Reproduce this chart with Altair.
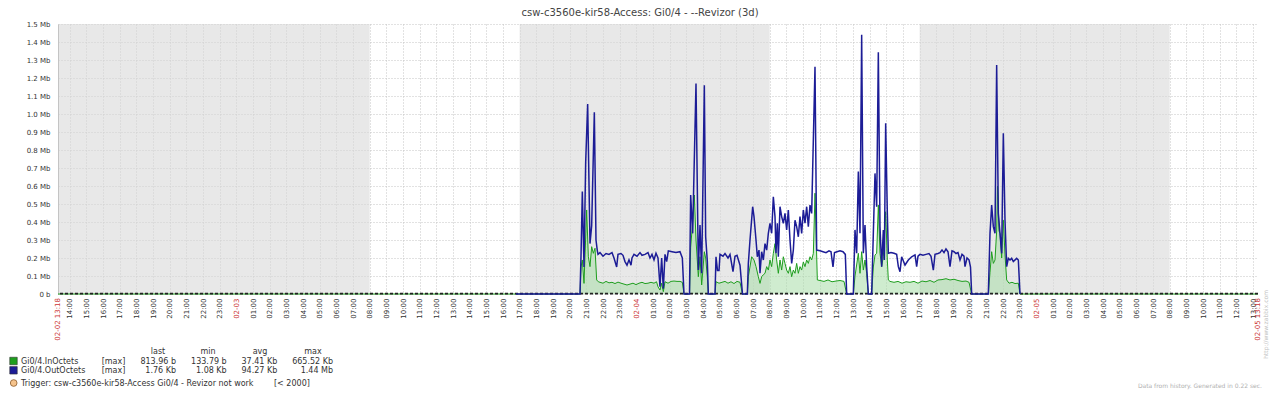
import altair as alt
import pandas as pd

FONT = "DejaVu Sans"
START = "2014-02-02 13:18"
END = "2014-02-05 13:18"

TITLE = "csw-c3560e-kir58-Access: Gi0/4 - --Revizor (3d)"

# off-hours shading (start, end)
shade_start = ["2014-02-02 13:18", "2014-02-03 17:00", "2014-02-04 17:00"]
shade_end = ["2014-02-03 08:00", "2014-02-04 08:00", "2014-02-05 08:00"]

# y ticks (Mb)
y_ticks = [0, 0.1, 0.2, 0.3, 0.4, 0.5, 0.6, 0.7, 0.8, 0.9, 1.0, 1.1, 1.2, 1.3, 1.4, 1.5]

# Gi0/4.OutOctets : (hours since start, Mb)
out_octets = [
    (27.48, 0), (31.32, 0), (31.38, 0.21), (31.46, 0.57), (31.56, 0.15), (31.66, 0.73),
    (31.78, 1.055), (31.92, 0.28), (32.02, 0.38), (32.18, 1.01), (32.28, 0.30), (32.36, 0.24),
    (32.40, 0.22), (32.52, 0.23), (32.70, 0.21), (32.88, 0.225), (33.06, 0.22), (33.24, 0.23),
    (33.36, 0.20), (33.52, 0.15), (33.60, 0.22), (33.78, 0.225), (33.90, 0.215), (34.02, 0.18),
    (34.14, 0.16), (34.26, 0.19), (34.38, 0.16), (34.44, 0.20), (34.56, 0.22), (34.74, 0.21),
    (34.92, 0.23), (35.04, 0.215), (35.22, 0.22), (35.40, 0.23), (35.52, 0.20), (35.64, 0.22),
    (35.76, 0.19), (35.88, 0.227), (36.00, 0.20), (36.12, 0.04), (36.22, 0.20), (36.32, 0.03),
    (36.42, 0.22), (36.52, 0.18), (36.62, 0.24), (36.84, 0.235), (37.08, 0.23), (37.32, 0.235),
    (37.46, 0.20), (37.56, 0), (37.89, 0), (37.96, 0.55), (38.08, 0.337), (38.28, 1.17),
    (38.42, 0.133), (38.52, 0.383), (38.62, 0.115), (38.78, 1.16), (38.86, 0.318), (38.96, 0.18),
    (39.02, 0), (39.42, 0), (39.48, 0.207), (39.57, 0.13), (39.66, 0.13), (39.72, 0.22),
    (39.90, 0.21), (40.02, 0.225), (40.20, 0.20), (40.32, 0.22), (40.50, 0.124), (40.62, 0.21),
    (40.74, 0.215), (40.92, 0.16), (41.07, 0), (41.36, 0), (41.42, 0.17), (41.52, 0.30),
    (41.68, 0.485), (41.76, 0.43), (41.88, 0.30), (41.96, 0.207), (42.06, 0.244), (42.12, 0.115),
    (42.22, 0.235), (42.32, 0.189), (42.42, 0.28), (42.52, 0.244), (42.62, 0.337), (42.72, 0.393),
    (42.82, 0.337), (42.92, 0.54), (43.02, 0.43), (43.08, 0.226), (43.16, 0.393), (43.22, 0.207),
    (43.32, 0.485), (43.42, 0.43), (43.52, 0.393), (43.62, 0.448), (43.72, 0.356), (43.82, 0.467),
    (43.92, 0.30), (44.02, 0.17), (44.12, 0.244), (44.22, 0.41), (44.32, 0.374), (44.42, 0.318),
    (44.52, 0.43), (44.62, 0.337), (44.72, 0.467), (44.82, 0.393), (44.92, 0.485), (45.02, 0.374),
    (45.12, 0.494), (45.22, 0.448), (45.28, 0.69), (45.42, 1.263), (45.52, 0.244), (45.72, 0.24),
    (45.90, 0.235), (46.08, 0.23), (46.26, 0.24), (46.38, 0.235), (46.50, 0.15), (46.59, 0.23),
    (46.74, 0.235), (46.92, 0.24), (47.10, 0.235), (47.24, 0.22), (47.32, 0), (47.72, 0),
    (47.82, 0.356), (47.92, 0.226), (48.02, 0.68), (48.12, 0.337), (48.22, 1.44), (48.32, 0.226),
    (48.42, 0.383), (48.52, 0.152), (48.62, 0), (48.82, 0), (48.92, 0.337), (49.02, 0.67),
    (49.12, 0.485), (49.22, 1.343), (49.32, 0.374), (49.42, 0.152), (49.52, 0.356), (49.58, 0.189),
    (49.66, 0.948), (49.76, 0.448), (49.82, 0.226), (49.98, 0.23), (50.16, 0.226), (50.32, 0.22),
    (50.42, 0.152), (50.52, 0.124), (50.62, 0.207), (50.82, 0.161), (51.02, 0.189), (51.22, 0.207),
    (51.42, 0.217), (51.52, 0.152), (51.60, 0.21), (51.72, 0.22), (51.90, 0.215), (52.08, 0.22),
    (52.26, 0.225), (52.38, 0.21), (52.52, 0.133), (52.62, 0.22), (52.80, 0.225), (52.92, 0.23),
    (53.04, 0.245), (53.16, 0.23), (53.28, 0.25), (53.40, 0.235), (53.52, 0.152), (53.64, 0.24),
    (53.76, 0.235), (53.88, 0.225), (54.00, 0.23), (54.12, 0.189), (54.24, 0.22), (54.36, 0.21),
    (54.42, 0.152), (54.54, 0.20), (54.66, 0.19), (54.75, 0.15), (54.82, 0), (55.82, 0),
    (55.92, 0.337), (56.02, 0.494), (56.12, 0.374), (56.22, 0.337), (56.32, 1.272), (56.42, 0.448),
    (56.52, 0.337), (56.62, 0.226), (56.72, 0.893), (56.82, 0.41), (56.92, 0.152), (57.02, 0.198),
    (57.12, 0.189), (57.22, 0.198), (57.32, 0.18), (57.52, 0.198), (57.62, 0.189), (57.72, 0),
]

# Gi0/4.InOctets : (hours since start, Mb)
in_octets = [
    (0, 0), (31.32, 0), (31.38, 0.15), (31.46, 0.189), (31.56, 0.059), (31.72, 0.467),
    (31.82, 0.207), (31.92, 0.152), (32.02, 0.263), (32.12, 0.226), (32.22, 0.254), (32.32, 0.078),
    (32.42, 0.068), (32.52, 0.065), (32.70, 0.06), (32.88, 0.07), (33.06, 0.062), (33.24, 0.065),
    (33.42, 0.058), (33.60, 0.066), (33.78, 0.06), (33.96, 0.055), (34.14, 0.05), (34.32, 0.055),
    (34.50, 0.06), (34.68, 0.052), (34.86, 0.06), (35.04, 0.065), (35.22, 0.058), (35.40, 0.06),
    (35.58, 0.065), (35.76, 0.06), (35.91, 0.068), (36.00, 0.04), (36.12, 0.022), (36.22, 0.06),
    (36.32, 0.013), (36.42, 0.068), (36.60, 0.06), (36.78, 0.07), (36.96, 0.072), (37.14, 0.07),
    (37.32, 0.07), (37.46, 0.065), (37.56, 0), (37.89, 0), (37.96, 0.26), (38.08, 0.40),
    (38.18, 0.55), (38.28, 0.30), (38.42, 0.096), (38.52, 0.207), (38.62, 0.05), (38.78, 0.235),
    (38.86, 0.20), (38.96, 0.096), (39.02, 0), (39.42, 0), (39.48, 0.068), (39.66, 0.06),
    (39.84, 0.065), (40.02, 0.07), (40.20, 0.06), (40.38, 0.068), (40.56, 0.058), (40.74, 0.07),
    (40.92, 0.065), (41.07, 0), (41.36, 0), (41.42, 0.096), (41.62, 0.207), (41.76, 0.189),
    (41.88, 0.152), (42.02, 0.096), (42.12, 0.059), (42.22, 0.096), (42.32, 0.107), (42.42, 0.115),
    (42.52, 0.152), (42.62, 0.133), (42.72, 0.189), (42.82, 0.152), (42.92, 0.226), (43.02, 0.28),
    (43.12, 0.189), (43.22, 0.115), (43.32, 0.189), (43.42, 0.133), (43.52, 0.207), (43.62, 0.17),
    (43.72, 0.133), (43.82, 0.115), (43.92, 0.152), (44.02, 0.096), (44.12, 0.133), (44.22, 0.115),
    (44.32, 0.17), (44.42, 0.115), (44.52, 0.152), (44.62, 0.133), (44.72, 0.178), (44.82, 0.152),
    (44.92, 0.189), (45.02, 0.17), (45.12, 0.207), (45.22, 0.189), (45.32, 0.226), (45.42, 0.56),
    (45.56, 0.078), (45.72, 0.075), (45.96, 0.07), (46.20, 0.078), (46.44, 0.068), (46.68, 0.072),
    (46.92, 0.075), (47.16, 0.07), (47.32, 0), (47.72, 0), (47.82, 0.10), (48.02, 0.226),
    (48.12, 0.115), (48.22, 0.235), (48.32, 0.133), (48.42, 0.189), (48.52, 0.115), (48.62, 0),
    (48.82, 0), (48.92, 0.15), (49.02, 0.217), (49.12, 0.226), (49.22, 0.494), (49.32, 0.226),
    (49.42, 0.152), (49.52, 0.207), (49.66, 0.457), (49.76, 0.189), (49.82, 0.078), (49.92, 0.07),
    (50.16, 0.065), (50.40, 0.07), (50.64, 0.06), (50.88, 0.068), (51.12, 0.065), (51.36, 0.07),
    (51.60, 0.06), (51.84, 0.072), (52.08, 0.068), (52.32, 0.075), (52.56, 0.065), (52.80, 0.078),
    (53.04, 0.08), (53.28, 0.085), (53.52, 0.078), (53.76, 0.082), (54.00, 0.075), (54.24, 0.07),
    (54.48, 0.072), (54.66, 0.065), (54.82, 0), (55.82, 0), (55.92, 0.12), (56.02, 0.235),
    (56.12, 0.17), (56.22, 0.189), (56.32, 0.35), (56.37, 0.60), (56.46, 0.35), (56.52, 0.337),
    (56.62, 0.20), (56.72, 0.41), (56.82, 0.217), (56.92, 0.078), (57.06, 0.06), (57.24, 0.065),
    (57.42, 0.058), (57.62, 0.06), (57.72, 0), (72.0, 0),
]

trigger_level = [2000 / 1048576]  # "< 2000" in Mb

legend_names = ["Gi0/4.InOctets", "Gi0/4.OutOctets"]
legend_colors = ["#1e9e1e", "#1c1c96"]
stat_headers = ["last", "min", "avg", "max"]
in_stats = ["813.96 b", "133.79 b", "37.41 Kb", "665.52 Kb"]
out_stats = ["1.76 Kb", "1.08 Kb", "94.27 Kb", "1.44 Mb"]
trigger_text = "Trigger: csw-c3560e-kir58-Access Gi0/4 - Revizor not work"
trigger_cond = "[< 2000]"
end_labels = ["02-02 13:18", "02-05 13:18"]

start_ts = pd.Timestamp(START)


def series_df(pairs):
    df = pd.DataFrame(pairs, columns=["h", "v"])
    df["t"] = start_ts + pd.to_timedelta(df["h"], unit="h")
    return df[["t", "v"]]


def dt(ts):
    ts = pd.Timestamp(ts)
    return alt.DateTime(year=ts.year, month=ts.month, date=ts.day, hours=ts.hour, minutes=ts.minute)


hour_ticks = [dt(t) for t in pd.date_range("2014-02-02 14:00", "2014-02-05 13:00", freq="h")]

X_SCALE = alt.Scale(domain=[dt(START), dt(END)])
X_AXIS = alt.Axis(
    values=hour_ticks, title=None, domain=False, ticks=False, labelAngle=270,
    labelAlign="right", labelBaseline="middle", labelPadding=4, labelFlush=False,
    labelOverlap=False, labelFontSize=7, labelFont=FONT,
    labelExpr="hours(datum.value) == 0 ? timeFormat(datum.value, '%m-%d') : timeFormat(datum.value, '%H:%M')",
    labelColor={"condition": {"test": "hours(datum.value) == 0", "value": "#cc3333"}, "value": "#333333"},
    grid=True, gridDash=[1, 2], gridColor="#c4c4c4",
)
Y_SCALE = alt.Scale(domain=[0, 1.5], nice=False)
Y_AXIS = alt.Axis(
    values=y_ticks, title=None, ticks=False, labelPadding=8, labelFontSize=7, labelFont=FONT,
    labelColor="#333333", domainColor="#aaaaaa",
    labelExpr="datum.value == 0 ? '0 b' : format(datum.value, '.1f') + ' Mb'",
    grid=True, gridDash=[1, 2], gridColor="#c4c4c4",
)


def xenc(field="t"):
    return alt.X(f"{field}:T", scale=X_SCALE, axis=X_AXIS)


def yenc(field="v"):
    return alt.Y(f"{field}:Q", scale=Y_SCALE, axis=Y_AXIS)


shade_df = pd.DataFrame({"s": pd.to_datetime(shade_start), "e": pd.to_datetime(shade_end)})
shade = alt.Chart(shade_df).mark_rect(color="#d8d8d8", opacity=0.58).encode(
    x=xenc("s"), x2="e:T", y=alt.value(0), y2=alt.value(270)
)

in_df = series_df(in_octets)
out_df = series_df(out_octets)

in_area = alt.Chart(in_df).mark_area(color="#a8dca8", opacity=0.55).encode(x=xenc(), y=yenc())
in_line = alt.Chart(in_df).mark_line(color=legend_colors[0], strokeWidth=1).encode(x=xenc(), y=yenc())
trig = alt.Chart(pd.DataFrame({"v": trigger_level})).mark_rule(
    color="#222222", strokeDash=[3, 2], strokeWidth=1.6
).encode(y=yenc())
out_line = alt.Chart(out_df).mark_line(color=legend_colors[1], strokeWidth=1.5).encode(x=xenc(), y=yenc())

end_df = pd.DataFrame({"t": pd.to_datetime([START, END]), "lab": end_labels})
end_text = alt.Chart(end_df).mark_text(
    angle=270, align="right", baseline="middle", fontSize=7, font=FONT, color="#cc3333"
).encode(x=xenc(), y=alt.value(274), text="lab:N")


def txt(s, x, y, size=8, color="#333333", align="left", angle=0, baseline="alphabetic"):
    return alt.Chart(pd.DataFrame({"s": [s]})).mark_text(
        align=align, baseline=baseline, fontSize=size, font=FONT, color=color, angle=angle
    ).encode(x=alt.value(x), y=alt.value(y), text="s:N")


texts = [txt(TITLE, 582, -8, size=10, color="#444444", align="center")]
for name, cx in zip(stat_headers, [100, 150, 202, 255]):
    texts.append(txt(name, cx, 330, align="center"))
row_y = [340, 349.3]
val_x = [118, 168.7, 219.3, 275]
for i, (name, stats) in enumerate(zip(legend_names, [in_stats, out_stats])):
    texts.append(txt(name, -37, row_y[i]))
    texts.append(txt("[max]", 43.7, row_y[i]))
    for s, vx in zip(stats, val_x):
        texts.append(txt(s, vx, row_y[i], align="right"))
texts.append(txt(trigger_text, -37, 362))
texts.append(txt(trigger_cond, 216, 362))
texts.append(txt("Data from history. Generated in 0.22 sec.", 1204, 364, size=6, color="#b0b0b0", align="right"))
texts.append(txt("http://www.zabbix.com", 1208, 266, size=6, color="#c0c0c0", align="right", angle=270, baseline="middle"))

squares = []
for i, c in enumerate(legend_colors):
    squares.append(
        alt.Chart(pd.DataFrame({"n": [legend_names[i]]})).mark_square(
            size=56, color=c, opacity=1, stroke="#333333", strokeWidth=0.6
        ).encode(x=alt.value(-44.5), y=alt.value(337 + 9.3 * i))
    )
circle = alt.Chart(pd.DataFrame({"n": ["trigger"]})).mark_circle(
    size=45, color="#f5c38c", opacity=1, stroke="#8c5a2a", strokeWidth=0.8
).encode(x=alt.value(-44.3), y=alt.value(359))

chart = alt.layer(
    shade, in_area, in_line, trig, out_line, end_text, *squares, circle, *texts
).properties(
    width=1200, height=270, autosize="none",
    padding={"left": 50, "top": 16, "right": 14, "bottom": 96},
    background="white",
).configure_view(stroke=None)

chart.save("out.html", embed_options={"renderer": "svg", "actions": False})
